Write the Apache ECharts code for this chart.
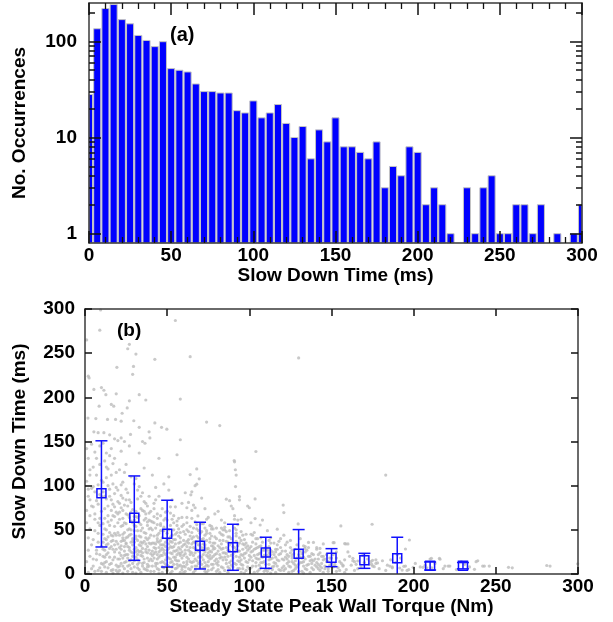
<!DOCTYPE html>
<html><head><meta charset="utf-8">
<script src="https://cdn.jsdelivr.net/npm/echarts@6/dist/echarts.min.js"></script>
<style>html,body{margin:0;padding:0;background:#fff}#c{width:613px;height:622px}</style>
</head><body><div id="c"></div>
<script>
// ---------- DATA ----------
// (a) histogram of slow down time (ms), bin centres and counts
const binCenters = [0,5,10,15,20,25,30,35,40,45,50,55,60,65,70,75,80,85,90,95,100,105,110,115,120,125,130,135,140,145,150,155,160,165,170,175,180,185,190,195,200,205,210,215,220,225,230,235,240,245,250,255,260,265,270,275,280,285,290,295,300];
const counts = [28,135,219,241,168,152,115,102,88,99,52,50,48,36,30,30,29,29,19,18,24,16,18,22,14,10,13,6,12,9,16,8,8,7,6,9,3,5,4,8,7,2,3,2,1,0,3,1,3,4,1,1,2,2,1,2,0,1,0,1,2];
const yTicksMajor = [1,10,100];
const yTicksMinor = [2,3,4,5,6,7,8,9,20,30,40,50,60,70,80,90,200];

// (b) binned mean +/- std of slow down time vs steady state peak wall torque
const torqueBins = [10,30,50,70,90,110,130,150,170,190,210,230];
const meanSlowDown = [91.5,63.8,45.7,32,30.2,24.2,23,18.3,15.5,17.8,9.4,9.4];
const lowSlowDown = [30.6,15.5,7.9,5.7,4.2,6.4,-4,8.3,6.4,-6,4.5,5.8];
const highSlowDown = [150.8,111,83.5,58.6,56.3,41.6,50.3,28.7,23.4,41.6,13.6,13];

// (b) individual events [torque (Nm), slow down time (ms)]
const outlierEvents = [[9.5,299],[55,287],[9,276],[1,265],[27,260],[26,255],[31,249],[64,246],[42.5,243],[29.5,235],[19.4,234],[29,226],[2,224],[2.5,222],[10,211],[5.4,209],[11.5,208],[12.7,203],[19,204],[33,203],[27,196],[37,197],[58,198],[16,192],[17.5,190],[8.6,190],[25.7,188],[22.6,182],[1.8,176.5],[6.6,176],[13.7,175],[18.6,175],[22,173],[29.7,173.5],[42.5,171],[46.6,166],[49.8,164],[74,172],[33,166],[5.4,161],[8,160],[11.5,160],[15,157.6],[27.7,158],[39,161],[18,153],[20,151],[22,154],[24,150],[35,150],[36.5,148],[39.5,154],[58,152],[82,168],[104,138.7],[91,127],[91.5,118],[130,244.6],[120.6,78],[121,69.5],[103.5,85],[94,84],[88,83],[90.8,128.5],[92,112],[91.6,99],[68,119],[64,112.6],[69.5,107.7],[68,101.7],[64.4,89.6],[65,93],[66,78],[67,75],[68.7,65.8],[86,84.7],[89,77],[90,74],[94,87.6],[99,77],[100,75],[103.5,62.7],[108,61],[106.6,55.5],[117,50.7],[91,62],[93,61],[95,62],[83,52],[85,50],[92,46],[77,54],[78,51],[73,52],[74,49],[183,112],[129.7,56.7],[155.7,54.4],[174.7,56.3],[197.4,38.5],[195,28.3],[136,35.7],[139,35.8],[145,34],[151.6,35.5],[158,34.4],[160,34],[133.8,29],[141,28],[143,29],[160,25],[163,17.8],[177,16],[175,15.5],[215.7,17.8],[210,17],[219,9],[221,9],[239,15],[243,9],[246,9],[237,5.3],[185.5,9],[187,8],[199.7,7.6],[193,4.5],[196,4],[176,8.3],[173,11],[242,9],[257.7,7.6],[260,7],[281,9.6],[283,9],[299.8,11.6],[238,14],[216,16.7],[205.7,7.6],[208,7],[210.8,17.8],[194,8.7],[191.5,6.8],[178,12.5],[174.5,10.8],[166,14.7],[162,10],[164,14],[157,10],[152,9],[158.7,34],[151,35.5]];
const cloudEvents = [[1,142],[2,131],[3,118],[1,105],[4,97],[2,88],[5,76],[3,66],[1,58],[6,49],[2,41],[4,33],[7,27],[3,20],[1,14],[5,9],[8,4],[6,138],[9,124],[7,112],[8,101],[9,90],[7,83],[10,71],[6,62],[9,55],[8,46],[5,39],[10,31],[9,22],[7,16],[4,6],[3,51],[6,93],[2,27],[8,36],[10,12],[9,63],[5,121],[4,147],[10,106],[1,72],[3,84],
[11,148],[13,137],[12,128],[14,119],[16,112],[11,104],[15,96],[18,91],[13,85],[17,79],[12,74],[19,70],[14,66],[16,61],[11,57],[18,54],[13,50],[15,47],[17,43],[12,40],[19,37],[14,34],[16,31],[11,28],[18,25],[13,22],[15,19],[17,16],[12,13],[19,10],[14,7],[16,4],[20,2],[11,45],[20,58],[12,63],[20,82],[15,88],[17,102],[19,115],[18,131],[16,142],[13,109],[20,47],[15,55],[17,66],[14,77],[19,28],[13,33],[17,38],[11,20],[20,17],[12,8],[18,65],[16,44],
[21,118],[23,104],[25,96],[22,89],[27,84],[24,78],[29,73],[21,70],[26,67],[23,63],[28,60],[25,57],[22,54],[27,51],[30,49],[24,47],[21,44],[26,42],[29,40],[23,38],[28,36],[25,34],[22,32],[27,30],[30,28],[24,26],[21,24],[26,22],[29,20],[23,18],[28,16],[25,14],[22,12],[27,10],[30,8],[24,6],[21,4],[26,3],[29,2],[23,55],[28,45],[25,41],[22,37],[27,27],[24,21],[29,33],[21,62],[26,77],[30,65],[23,86],[28,110],[25,124],[22,139],[27,145],[30,55],[24,31],[26,9],[29,24],[21,17],[28,50],[23,45],[25,68],
[31,108],[33,99],[35,92],[32,85],[37,80],[34,74],[39,69],[31,65],[36,61],[33,58],[38,55],[35,52],[32,49],[37,46],[40,44],[34,42],[31,40],[36,37],[39,35],[33,33],[38,31],[35,29],[32,27],[37,25],[40,23],[34,21],[31,19],[36,17],[39,15],[33,13],[38,11],[35,9],[32,7],[37,5],[40,3],[34,2],[36,47],[39,51],[33,43],[38,39],[35,35],[32,22],[37,28],[34,56],[31,71],[39,88],[36,120],[33,137],[40,60],[38,18],[31,30],[35,12],[37,63],[32,38],[34,26],[39,41],
[41,112],[43,98],[45,88],[42,80],[47,74],[44,68],[49,63],[41,59],[46,55],[43,52],[48,49],[45,46],[42,43],[47,41],[50,39],[44,37],[41,35],[46,33],[49,31],[43,29],[48,27],[45,25],[42,23],[47,21],[50,19],[44,17],[41,15],[46,13],[49,11],[43,9],[48,7],[45,5],[42,3],[47,2],[50,46],[44,44],[41,50],[46,38],[49,36],[43,34],[48,24],[45,30],[42,18],[47,14],[50,27],[44,12],[41,26],[46,57],[49,70],[43,84],[48,102],[45,131],[42,65],[47,33],[50,10],[44,22],
[51,95],[53,84],[55,76],[52,69],[57,63],[54,58],[59,54],[51,50],[56,47],[53,44],[58,41],[55,39],[52,37],[57,35],[60,33],[54,31],[51,29],[56,27],[59,25],[53,23],[58,21],[55,19],[52,17],[57,15],[60,13],[54,11],[51,9],[56,7],[59,5],[53,3],[58,2],[55,45],[52,42],[57,30],[60,38],[54,26],[51,34],[56,22],[59,18],[53,14],[58,10],[55,6],[52,55],[57,51],[54,66],[59,80],[51,110],[56,135],[60,48],[53,36],[58,28],[55,16],[52,24],[57,9],
[61,92],[63,81],[65,72],[62,64],[67,59],[64,54],[69,49],[61,45],[66,42],[63,39],[68,36],[65,34],[62,31],[67,29],[70,27],[64,25],[61,23],[66,21],[69,19],[63,17],[68,15],[65,13],[62,11],[67,9],[70,7],[64,5],[61,3],[66,2],[69,33],[63,48],[68,43],[65,40],[62,37],[67,24],[70,20],[64,14],[61,8],[66,30],[69,12],[63,27],[68,56],[65,63],[62,75],[67,100],
[71,86],[73,74],[75,64],[72,57],[77,51],[74,46],[79,42],[71,39],[76,36],[73,33],[78,31],[75,29],[72,27],[77,25],[80,23],[74,21],[71,19],[76,17],[79,15],[73,13],[78,11],[75,9],[72,7],[77,5],[80,3],[74,2],[76,40],[79,35],[73,44],[78,28],[75,24],[72,34],[77,18],[80,12],[74,10],[71,48],[76,55],[79,68],[73,30],[78,20],[75,14],
[81,71],[83,61],[85,53],[82,47],[87,42],[84,38],[89,35],[81,32],[86,30],[83,28],[88,26],[85,24],[82,22],[87,20],[90,18],[84,16],[81,14],[86,12],[89,10],[83,8],[88,6],[85,4],[82,2],[87,36],[90,31],[84,44],[81,26],[86,23],[89,15],[83,19],[88,49],[85,58],[82,38],[87,8],[84,29],
[91,66],[93,56],[95,48],[92,43],[97,39],[94,35],[99,32],[91,30],[96,28],[93,26],[98,24],[95,22],[92,20],[97,18],[100,16],[94,14],[91,12],[96,10],[99,8],[93,6],[98,4],[95,2],[92,37],[97,33],[94,41],[99,27],[96,21],[93,15],[98,45],[91,52],[95,11],[100,29],
[101,58],[103,47],[105,40],[102,36],[107,32],[104,29],[109,27],[101,25],[106,23],[103,21],[108,19],[105,17],[102,15],[107,13],[110,11],[104,9],[101,7],[106,5],[109,3],[103,2],[108,36],[105,30],[102,44],[107,24],[104,18],[109,14],[101,31],[106,10],
[111,49],[113,41],[115,35],[112,31],[117,28],[114,25],[119,23],[111,21],[116,19],[113,17],[118,15],[115,13],[112,11],[117,9],[120,7],[114,5],[111,3],[116,2],[119,30],[113,27],[118,37],[115,22],[112,16],[117,33],[114,8],
[121,44],[123,36],[125,30],[122,26],[127,23],[124,20],[129,18],[121,16],[126,14],[123,12],[128,10],[125,8],[122,6],[127,4],[130,3],[124,2],[126,27],[129,33],[123,22],[128,15],[121,9],[125,38],
[131,40],[133,32],[135,27],[132,23],[137,20],[134,17],[139,15],[131,13],[136,11],[133,9],[138,7],[135,5],[132,3],[137,2],[134,25],[139,22],[131,19],[136,30],[133,14],[138,12],
[141,30],[143,24],[145,20],[142,17],[147,14],[144,12],[149,10],[141,8],[146,6],[143,4],[148,3],[145,16],[142,11],[147,22],[144,7],[149,18],[141,13],
[151,22],[153,18],[155,14],[152,11],[157,9],[154,7],[159,5],[156,12],[153,25],[158,16],[151,8],[155,4],
[161,20],[163,15],[165,11],[168,8],[170,13],[172,17],[166,6],[175,9],[177,12],[179,6],[169,21],[164,4],[174,14],
[181,15],[184,10],[187,7],[189,13],[192,18],[195,9],[197,5],[183,4],[190,22],[186,16],
[201,12],[204,8],[207,10],[211,7],[213,12],[218,6],[222,9],[226,5],[231,11],[234,8],[229,14],
[10,3],[12,27],[14,42],[16,12],[18,33],[20,8],[11,36],[13,14],[15,29],[17,5],[19,44],[21,9],[22,28],[23,41],[24,13],[25,35],[26,18],[27,44],[28,6],[29,37],[30,15],[31,43],[32,11],[33,25],[34,36],[35,20],[36,6],[37,41],[38,24],[39,9],[40,34],[41,21],[42,30],[43,12],[44,40],[45,19],[46,27],[47,8],[48,33],[49,16],[50,24],[51,40],[52,13],[53,30],[54,19],[55,34],[56,11],[57,43],[58,23],[59,31],[60,9],[61,27],[62,19],[63,35],[64,22],[65,8],[66,36],[67,17],[68,27],[69,41],[70,14],[71,30],[72,22],[73,8],[74,38],[75,19],[76,26],[77,11],[78,35],[79,22],[80,17],[82,30],[84,24],[86,16],[88,33],[90,22],[92,27],[94,19],[96,34],[98,14],[100,21],[102,26],[104,13],[106,17],[108,27],[110,20],[112,24],[114,18],[116,12],[118,22],[120,17],[122,19],[124,14],[126,21],[128,6],[130,11],[132,18],[134,6],[136,20],[138,16],[140,10],[142,6],[144,20],[146,9],[148,14],[150,12],
[6,68],[8,79],[10,88],[12,51],[14,59],[16,72],[18,46],[20,68],[22,75],[24,58],[26,50],[28,70],[30,61],[32,64],[34,49],[36,71],[38,59],[40,52],[42,74],[44,56],[46,66],[48,53],[50,61],[52,76],[54,50],[56,60],[58,47],[60,56],[62,50],[64,43],[66,52],[70,46],[72,40],[76,46],[80,40],[84,50],[88,42],[96,44],[104,40],[112,38],
[2,2],[6,3],[13,2],[17,1],[23,1],[31,1],[38,4],[45,1],[52,1],[60,2],[67,4],[73,3],[81,5],[87,2],[94,6],[97,1],[105,3],[113,1],[119,4],[126,3],[133,1],[139,5],[145,2],[153,3],[158,2],
[3,112],[5,99],[7,131],[9,145],[2,96],[4,77],[8,58],[11,93],[13,121],[15,134],[17,125],[19,98],[12,88],[14,100],[16,84],[18,76],[20,95],[22,101],[24,115],[26,92],[28,81],[30,102],[32,95],[34,88],[36,82],[38,77],[40,71],[21,80],[23,72],[25,84],[27,64],[29,58],[31,54],[33,66],[35,72],[37,68],[39,61],[42,58],[44,63],[46,49],[48,61],[50,71],[53,62],[56,55],[59,64],[62,58],[65,47],[68,51],[71,57],[74,62],[77,43],[80,52],[83,45],[86,48],[89,40],[92,50],[95,38],[98,35],[101,45],[104,34],[107,41],[110,30],[113,35],[116,28],[119,40],[122,33],[125,24],[128,28],[131,26],[134,31],
[5,17],[7,23],[9,7],[11,11],[12,19],[13,39],[14,24],[15,11],[16,37],[17,28],[18,19],[19,4],[20,34],[21,30],[22,21],[23,9],[24,38],[25,22],[26,31],[27,15],[28,25],[29,12],[30,36],[31,25],[32,16],[33,5],[34,32],[35,24],[36,13],[37,34],[38,8],[39,27],[40,17],[41,9],[42,35],[43,25],[44,6],[45,36],[46,21],[47,29],[48,13],[49,22],[50,4],[51,18],[52,31],[53,8],[54,39],[55,26],[56,15],[57,24],[58,36],[59,8],[60,21],[61,34],[62,14],[63,6],[64,30],[65,24],[66,14],[67,36],[68,9],[69,26],[70,33],[71,11],[72,16],[73,25],[74,28],[75,4],[76,21],[77,32],[78,7],[79,29],[81,10],[82,18],[83,34],[84,7],[85,19],[86,37],[87,27],[88,13],[89,21],[90,8],[91,25],[92,11],[93,32],[94,26],[95,16],[96,6],[97,23],[98,30],[99,13],[100,6],[101,19],[102,9],[103,28],[105,22],[106,31],[107,7],[108,13],[109,21],[110,5],[111,27],[112,6],[113,22],[115,9],[116,25],[117,16],[118,5],[120,26],[121,4],[123,17],[124,9],[126,18],[127,12],[129,8],[130,22],[132,13],[133,19],[135,10],[137,15],[138,23],[140,17],[142,22],[143,9],[146,17],[148,6],[150,18]];

// ---------- STYLE / CHART ----------
const FONT = 'Liberation Sans, Arial, Helvetica, sans-serif';
const TICK_FS = 19, NAME_FS = 19;
const txt = (size) => ({fontFamily: FONT, fontWeight: 'bold', fontSize: size, color: '#000'});
const AX = '#3a3a3a';
const BLUE = '#1010ff';

function hAxis(grid, pos, opts) {
  return Object.assign({
    gridIndex: grid, type: 'value', min: 0, max: 300, interval: 50, position: pos, z: 5,
    axisLine: {show: true, onZero: false, lineStyle: {color: AX, width: 1.5}},
    axisTick: {show: true, inside: true, length: 7, lineStyle: {color: '#111', width: 1.5}},
    axisLabel: {show: false},
    splitLine: {show: false}
  }, opts);
}
function logAxis(pos, ticks, len, labels, extra) {
  return Object.assign({
    gridIndex: 0, type: 'log', logBase: 10, min: 0.8, max: 250, position: pos, z: 5,
    axisLine: {show: true, lineStyle: {color: AX, width: 1.5}},
    axisTick: {show: true, inside: true, length: len, customValues: ticks, lineStyle: {color: '#111', width: 1.5}},
    axisLabel: labels ? Object.assign({show: true, margin: 12, customValues: ticks}, txt(TICK_FS)) : {show: false},
    splitLine: {show: false}, minorTick: {show: false}
  }, extra || {});
}

const chart = echarts.init(document.getElementById('c'), null, {renderer: 'canvas', width: 613, height: 622});

const histData = binCenters.map((c, i) => [c, counts[i]]);
const errData = torqueBins.map((t, i) => [t, meanSlowDown[i], lowSlowDown[i], highSlowDown[i]]);
const scatterData = outlierEvents.concat(cloudEvents);

chart.setOption({
  animation: false,
  backgroundColor: '#fff',
  grid: [
    {left: 89, top: 3, width: 493, height: 240},
    {left: 85, top: 309, width: 493, height: 265}
  ],
  xAxis: [
    hAxis(0, 'bottom', {
      axisTick: {show: true, inside: true, length: 12, lineStyle: {color: '#111', width: 1.5}},
      minorTick: {show: true, splitNumber: 5, length: 6, lineStyle: {color: '#111', width: 1.3}},
      axisLabel: Object.assign({show: true, margin: 3}, txt(TICK_FS)),
      name: 'Slow Down Time (ms)', nameLocation: 'middle', nameGap: 23, nameTextStyle: txt(NAME_FS)
    }),
    hAxis(0, 'top', {
      axisTick: {show: true, inside: true, length: 12, lineStyle: {color: '#111', width: 1.5}},
      minorTick: {show: true, splitNumber: 5, length: 6, lineStyle: {color: '#111', width: 1.3}}
    }),
    hAxis(1, 'bottom', {
      axisLabel: Object.assign({show: true, margin: 3}, txt(TICK_FS)),
      name: 'Steady State Peak Wall Torque (Nm)', nameLocation: 'middle', nameGap: 22, nameTextStyle: txt(NAME_FS)
    }),
    hAxis(1, 'top', {})
  ],
  yAxis: [
    logAxis('left', yTicksMajor, 12, true, {
      name: 'No. Occurrences', nameLocation: 'middle', nameGap: 60, nameRotate: 90, nameTextStyle: txt(NAME_FS)
    }),
    logAxis('left', yTicksMinor, 6, false, {axisLine: {show: false}}),
    logAxis('right', yTicksMajor, 12, false),
    logAxis('right', yTicksMinor, 6, false, {axisLine: {show: false}}),
    {
      gridIndex: 1, type: 'value', min: 0, max: 300, interval: 50, position: 'left', z: 5,
      axisLine: {show: true, onZero: false, lineStyle: {color: AX, width: 1.5}},
      axisTick: {show: true, inside: true, length: 7, lineStyle: {color: '#111', width: 1.5}},
      axisLabel: Object.assign({show: true, margin: 10}, txt(TICK_FS)),
      splitLine: {show: false},
      name: 'Slow Down Time (ms)', nameLocation: 'middle', nameGap: 56, nameRotate: 90, nameTextStyle: txt(NAME_FS)
    },
    {
      gridIndex: 1, type: 'value', min: 0, max: 300, interval: 50, position: 'right', z: 5,
      axisLine: {show: true, onZero: false, lineStyle: {color: AX, width: 1.5}},
      axisTick: {show: true, inside: true, length: 7, lineStyle: {color: '#111', width: 1.5}},
      axisLabel: {show: false}, splitLine: {show: false}
    }
  ],
  series: [
    {
      type: 'custom', xAxisIndex: 0, yAxisIndex: 0, z: 2,
      data: histData, encode: {x: 0, y: 1},
      renderItem: function (params, api) {
        const x = api.value(0), v = api.value(1);
        if (!(v > 0)) return null;
        const cs = params.coordSys;
        const top = api.coord([x, v]);
        const step = api.coord([x + 5, v])[0] - top[0];
        const w = step * 0.86;
        let x0 = top[0] - w / 2, x1 = top[0] + w / 2;
        x0 = Math.max(x0, cs.x); x1 = Math.min(x1, cs.x + cs.width);
        const bottom = cs.y + cs.height;
        return {
          type: 'rect',
          shape: {x: x0, y: top[1], width: x1 - x0, height: bottom - top[1]},
          style: {fill: '#0000ff', stroke: '#c4c4c4', lineWidth: 1}
        };
      }
    },
    {
      type: 'scatter', xAxisIndex: 2, yAxisIndex: 4, z: 2,
      data: scatterData, symbol: 'circle', symbolSize: 3.2,
      itemStyle: {color: '#bcbcbc'}, silent: true
    },
    {
      type: 'custom', xAxisIndex: 2, yAxisIndex: 4, z: 4,
      data: errData, encode: {x: 0, y: [1, 2, 3]},
      renderItem: function (params, api) {
        const x = api.value(0), m = api.value(1), lo = api.value(2), hi = api.value(3);
        const cs = params.coordSys;
        const bottom = cs.y + cs.height;
        const pm = api.coord([x, m]);
        const plo = api.coord([x, lo]);
        const phi = api.coord([x, hi]);
        const yLo = Math.min(plo[1], bottom);
        const st = {stroke: BLUE, lineWidth: 1.5, fill: 'none'};
        const ch = [
          {type: 'line', shape: {x1: pm[0], y1: phi[1], x2: pm[0], y2: yLo}, style: st},
          {type: 'line', shape: {x1: pm[0] - 6, y1: phi[1], x2: pm[0] + 6, y2: phi[1]}, style: st},
          {type: 'rect', shape: {x: pm[0] - 4.5, y: pm[1] - 4.5, width: 9, height: 9}, style: st}
        ];
        if (plo[1] <= bottom) ch.push({type: 'line', shape: {x1: pm[0] - 6, y1: plo[1], x2: pm[0] + 6, y2: plo[1]}, style: st});
        return {type: 'group', children: ch};
      }
    }
  ],
  graphic: [
    {type: 'text', left: 170, top: 25, style: {text: '(a)', font: 'bold 20px ' + FONT, fill: '#000'}},
    {type: 'text', left: 117, top: 321, style: {text: '(b)', font: 'bold 19px ' + FONT, fill: '#000'}}
  ]
});
</script>
</body></html>
